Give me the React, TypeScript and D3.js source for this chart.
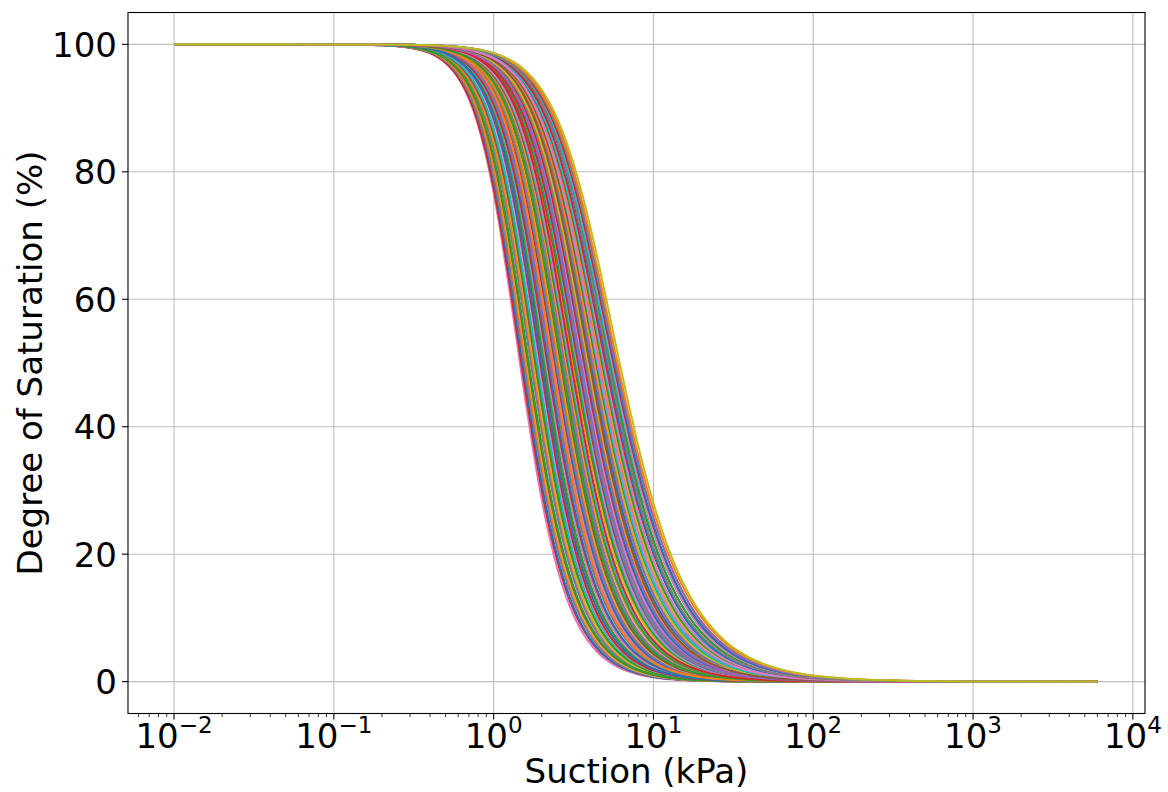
import React from "react";
import * as d3 from "d3";

// Suction values (kPa) at which each curve is drawn
const suctionGrid = [
  0.01, 0.02, 0.04, 0.07, 0.1, 0.14, 0.2, 0.25, 0.3, 0.35, 0.4, 0.45, 0.5, 0.56, 0.63, 0.7,
  0.79, 0.89, 1, 1.12, 1.26, 1.41, 1.58, 1.78, 2, 2.24, 2.51, 2.82, 3.16, 3.55, 3.98, 4.47,
  5.01, 5.62, 6.31, 7.08, 7.94, 8.91, 10, 11.2, 12.6, 14.1, 15.8, 17.8, 20, 22.4, 25.1, 28.2,
  31.6, 35.5, 39.8, 44.7, 50.1, 63.1, 79.4, 100, 126, 158, 200, 251, 316, 501, 1000, 2000, 6000,
];

// Suction at 50 % saturation for each curve (kPa)
const psi50 = [
  2.69, 3.12, 3.55, 4.02, 4.58, 5.29, 1.46, 1.71, 2.01, 2.35,
  4.08, 4.64, 5.37, 1.49, 1.74, 2.04, 2.38, 2.73, 3.16, 3.58,
  1.52, 1.76, 2.08, 2.42, 2.79, 3.19, 3.62, 4.14, 4.71, 5.46,
  2.44, 2.84, 3.25, 3.68, 4.2, 4.76, 5.54, 1.55, 1.79, 2.12,
  3.74, 4.26, 4.82, 5.62, 1.57, 1.82, 2.14, 2.47, 2.87, 3.31,
  5.7, 1.59, 1.85, 2.17, 2.52, 2.9, 3.34, 3.79, 4.32, 4.87,
  2.21, 2.55, 2.94, 3.38, 3.83, 4.38, 4.93, 5.78, 1.62, 1.88,
  3.43, 3.88, 4.44, 5.02, 5.87, 1.64, 1.93, 2.25, 2.6, 2.97,
  5.12, 5.95, 1.66, 1.96, 2.29, 2.63, 3.01, 3.47, 3.92, 4.47,
  1.99, 2.33, 2.66, 3.05, 3.51, 3.98, 4.52, 5.21, 6.15,
];

// van Genuchten n for each curve (steepness)
const nParam = [
  3.04, 2.9, 2.86, 2.75, 2.7, 2.58, 3.42, 3.28, 3.22, 3.09,
  2.78, 2.66, 2.6, 3.37, 3.31, 3.17, 3.11, 2.99, 2.94, 2.82,
  3.39, 3.26, 3.2, 3.06, 3.01, 2.89, 2.85, 2.73, 2.69, 2.55,
  3.1, 2.96, 2.92, 2.8, 2.76, 2.64, 2.58, 3.34, 3.29, 3.15,
  2.83, 2.71, 2.67, 2.54, 3.37, 3.24, 3.18, 3.05, 2.96, 2.91,
  2.57, 3.33, 3.27, 3.13, 3.08, 2.95, 2.9, 2.78, 2.74, 2.63,
  3.16, 3.03, 2.98, 2.85, 2.82, 2.69, 2.66, 2.52, 3.35, 3.22,
  2.89, 2.77, 2.72, 2.61, 2.55, 3.31, 3.24, 3.11, 3.06, 2.94,
  2.64, 2.5, 3.3, 3.24, 3.1, 3.05, 2.93, 2.88, 2.76, 2.72,
  3.19, 3.13, 3.0, 2.96, 2.83, 2.79, 2.67, 2.62, 2.5,
];

const colors = [
  "#1f77b4", "#ff7f0e", "#2ca02c", "#d62728", "#9467bd",
  "#8c564b", "#e377c2", "#7f7f7f", "#bcbd22", "#17becf",
];

const yTicks = [0, 20, 40, 60, 80, 100];
const xTickExponents = [-2, -1, 0, 1, 2, 3, 4];

const W = 1168;
const H = 792;
const left = 128;
const right = 1145;
const top = 12.5;
const bottom = 713.5;
const FONT = "DejaVu Sans, sans-serif";

function saturation(psi: number, p50: number, n: number) {
  const m = 1 - 1 / n;
  const alpha = Math.pow(Math.pow(2, 1 / m) - 1, 1 / n) / p50;
  return 100 * Math.pow(1 + Math.pow(alpha * psi, n), -m);
}

export default function App() {
  const x = d3.scaleLog().domain([Math.pow(10, -2.288), Math.pow(10, 4.076)]).range([left, right]);
  const y = d3.scaleLinear().domain([-5, 105]).range([bottom, top]);

  const line = d3
    .line<number[]>()
    .x((d) => x(d[0]))
    .y((d) => y(d[1]))
    .curve(d3.curveMonotoneX);

  const curves = psi50.map((p, i) => ({
    color: colors[i % colors.length],
    d: line(suctionGrid.map((s) => [s, saturation(s, p, nParam[i])])) || "",
  }));

  const minorTicks: number[] = [];
  for (let e = -3; e <= 4; e++) {
    for (let k = 2; k <= 9; k++) {
      const v = k * Math.pow(10, e);
      const px = x(v);
      if (px >= left && px <= right) minorTicks.push(v);
    }
  }

  return (
    <svg
      width={W}
      height={H}
      style={{ position: "absolute", left: 0, top: 0, background: "#fff" }}
      fontFamily={FONT}
    >
      <rect x={0} y={0} width={W} height={H} fill="#fff" />
      {/* grid */}
      <g stroke="#b0b0b0" strokeWidth={1.1} opacity={0.8}>
        {xTickExponents.map((e) => (
          <line key={"gx" + e} x1={x(Math.pow(10, e))} x2={x(Math.pow(10, e))} y1={top} y2={bottom} />
        ))}
        {yTicks.map((t) => (
          <line key={"gy" + t} x1={left} x2={right} y1={y(t)} y2={y(t)} />
        ))}
      </g>
      {/* curves */}
      <g fill="none" strokeWidth={2} strokeLinejoin="round" strokeLinecap="butt">
        {curves.map((c, i) => (
          <path key={i} d={c.d} stroke={c.color} />
        ))}
      </g>
      {/* spines */}
      <rect x={left} y={top} width={right - left} height={bottom - top} fill="none" stroke="#000" strokeWidth={1.1} />
      {/* y ticks */}
      <g>
        {yTicks.map((t) => (
          <g key={"yt" + t}>
            <line x1={left - 6} x2={left} y1={y(t)} y2={y(t)} stroke="#000" strokeWidth={1.1} />
            <text x={left - 11} y={y(t) + 12.4} textAnchor="end" fontSize={34} fill="#000">
              {t}
            </text>
          </g>
        ))}
      </g>
      {/* x ticks */}
      <g>
        {minorTicks.map((v, i) => (
          <line key={"mx" + i} x1={x(v)} x2={x(v)} y1={bottom} y2={bottom + 3.5} stroke="#000" strokeWidth={0.8} />
        ))}
        {xTickExponents.map((e) => (
          <g key={"xt" + e}>
            <line x1={x(Math.pow(10, e))} x2={x(Math.pow(10, e))} y1={bottom} y2={bottom + 6} stroke="#000" strokeWidth={1.1} />
            <text x={x(Math.pow(10, e))} y={748} textAnchor="middle" fontSize={34} fill="#000">
              <tspan>10</tspan>
              <tspan dy={-15} fontSize={23}>
                {e < 0 ? "\u2212" + Math.abs(e) : String(e)}
              </tspan>
            </text>
          </g>
        ))}
      </g>
      {/* axis labels */}
      <text x={(left + right) / 2} y={783} textAnchor="middle" fontSize={34} fill="#000">
        Suction (kPa)
      </text>
      <text
        transform={`translate(42, ${(top + bottom) / 2}) rotate(-90)`}
        textAnchor="middle"
        fontSize={34}
        fill="#000"
      >
        Degree of Saturation (%)
      </text>
    </svg>
  );
}
